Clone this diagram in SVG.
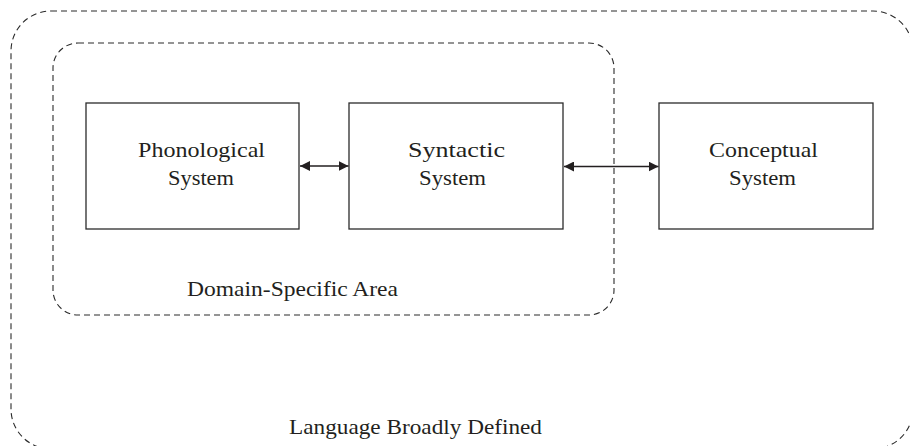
<svg xmlns="http://www.w3.org/2000/svg" width="910" height="446" viewBox="0 0 910 446">
<style>
.region{fill:none;stroke:#2a2a2a;stroke-width:1.1;stroke-dasharray:6 4}
.box{fill:#fff;stroke:#2b2b2b;stroke-width:1.3}
.lbl{font-family:"Liberation Serif","DejaVu Serif",serif;font-size:22px;fill:#231f20}
.conn{stroke:#231f20;stroke-width:1.3;fill:none}
</style>
<defs>
<marker id="ah" viewBox="0 0 10 10" refX="10" refY="5" markerWidth="10" markerHeight="10" markerUnits="userSpaceOnUse" orient="auto-start-reverse">
<path d="M0,0 L10,5 L0,10 Z" fill="#231f20"/>
</marker>
</defs>
<rect width="910" height="446" fill="#fff"/>
<g id="language-broadly-defined">
<rect class="region" x="11" y="11" width="902" height="438" rx="40" ry="40"/>
<text class="lbl" x="289" y="434" textLength="253" lengthAdjust="spacingAndGlyphs">Language Broadly Defined</text>
</g>
<g id="domain-specific-area">
<rect class="region" x="53" y="43" width="561" height="272" rx="25" ry="25"/>
<text class="lbl" x="187" y="296" textLength="211" lengthAdjust="spacingAndGlyphs">Domain-Specific Area</text>
</g>
<g id="phonological">
<rect class="box" x="86" y="103" width="213" height="126"/>
<text class="lbl" x="138" y="157" textLength="127" lengthAdjust="spacingAndGlyphs">Phonological</text>
<text class="lbl" x="168" y="185" textLength="66" lengthAdjust="spacingAndGlyphs">System</text>
</g>
<g id="syntactic">
<rect class="box" x="349" y="103" width="214" height="126"/>
<text class="lbl" x="408" y="157" textLength="97" lengthAdjust="spacingAndGlyphs">Syntactic</text>
<text class="lbl" x="419" y="185" textLength="67" lengthAdjust="spacingAndGlyphs">System</text>
</g>
<g id="conceptual">
<rect class="box" x="659" y="103" width="214" height="126"/>
<text class="lbl" x="709" y="157" textLength="109" lengthAdjust="spacingAndGlyphs">Conceptual</text>
<text class="lbl" x="729" y="185" textLength="67" lengthAdjust="spacingAndGlyphs">System</text>
</g>
<g id="connectors">
<line class="conn" x1="300" y1="166" x2="348.5" y2="166" marker-start="url(#ah)" marker-end="url(#ah)"/>
<line class="conn" x1="564" y1="166.5" x2="658.5" y2="166.5" marker-start="url(#ah)" marker-end="url(#ah)"/>
</g>
</svg>
